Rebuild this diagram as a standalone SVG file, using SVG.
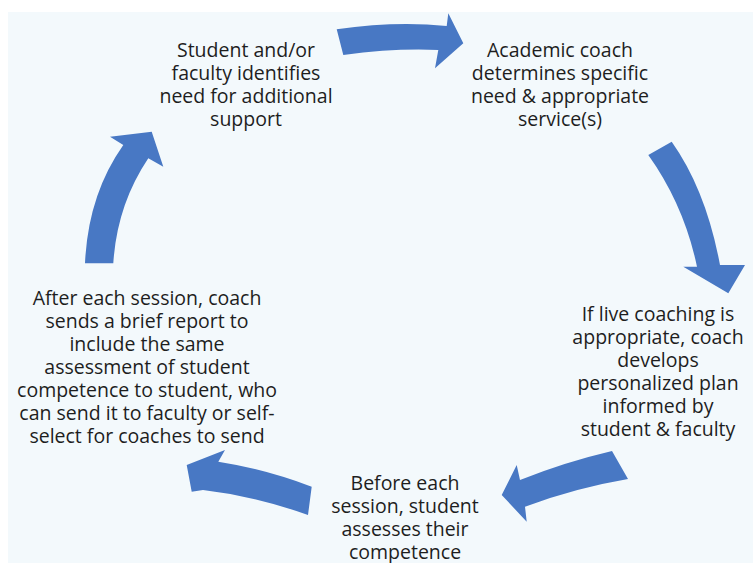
<svg xmlns="http://www.w3.org/2000/svg" width="753" height="563" viewBox="0 0 753 563">
<style>
.t{font-family:"Open Sans","Noto Sans","Liberation Sans",sans-serif;font-size:19.5px;fill:#1e1e1e;text-anchor:middle}
.a{fill:#4878c4}
</style>
<rect x="0" y="0" width="753" height="563" fill="#ffffff"/>
<rect x="8" y="12" width="745" height="551" fill="#f3f9fc"/>
<g id="connectors">
<path class="a" d="M336.7,29.3 Q395,21 446.7,26 L448.3,13.3 L463.3,43.3 L435,68.3 L438.3,50 Q395,48 343.3,55 Z"/>
<path class="a" d="M671.7,141.7 Q706,190 720,265 L745,265 L728.3,293.3 L683.3,266.7 L697,266.7 Q684,205 648.3,155 Z"/>
<path class="a" d="M612,451 Q565,462 520,480 L516.7,465 L501.7,495 L526.7,521.7 L525,506.7 Q575,488 628,479 Z"/>
<path class="a" d="M311.7,486.7 Q265,469 218.3,461.7 L225,450 L186.7,465 L191.7,491.7 L203,490 Q255,496 308,515 Z"/>
<path class="a" d="M85,263.3 Q88,195 123.3,145 L110,136.7 L151.7,131.7 L163.3,166.7 L148.3,158.3 Q117,205 113.3,263.3 Z"/>
</g>
<g id="node1">
<text class="t" x="246" y="57">Student and/or</text>
<text class="t" x="246" y="80">faculty identifies</text>
<text class="t" x="246" y="103">need for additional</text>
<text class="t" x="246" y="126">support</text>
</g>
<g id="node2">
<text class="t" x="560" y="57">Academic coach</text>
<text class="t" x="560" y="80">determines specific</text>
<text class="t" x="560" y="103">need &amp; appropriate</text>
<text class="t" x="560" y="126">service(s)</text>
</g>
<g id="node3">
<text class="t" x="658" y="321">If live coaching is</text>
<text class="t" x="658" y="344">appropriate, coach</text>
<text class="t" x="658" y="367">develops</text>
<text class="t" x="658" y="390">personalized plan</text>
<text class="t" x="658" y="413">informed by</text>
<text class="t" x="658" y="436">student &amp; faculty</text>
</g>
<g id="node4">
<text class="t" x="405" y="490">Before each</text>
<text class="t" x="405" y="513">session, student</text>
<text class="t" x="405" y="536">assesses their</text>
<text class="t" x="405" y="559">competence</text>
</g>
<g id="node5">
<text class="t" x="147" y="305">After each session, coach</text>
<text class="t" x="147" y="328">sends a brief report to</text>
<text class="t" x="147" y="351">include the same</text>
<text class="t" x="147" y="374">assessment of student</text>
<text class="t" x="147" y="397">competence to student, who</text>
<text class="t" x="147" y="420">can send it to faculty or self-</text>
<text class="t" x="147" y="443">select for coaches to send</text>
</g>
</svg>
